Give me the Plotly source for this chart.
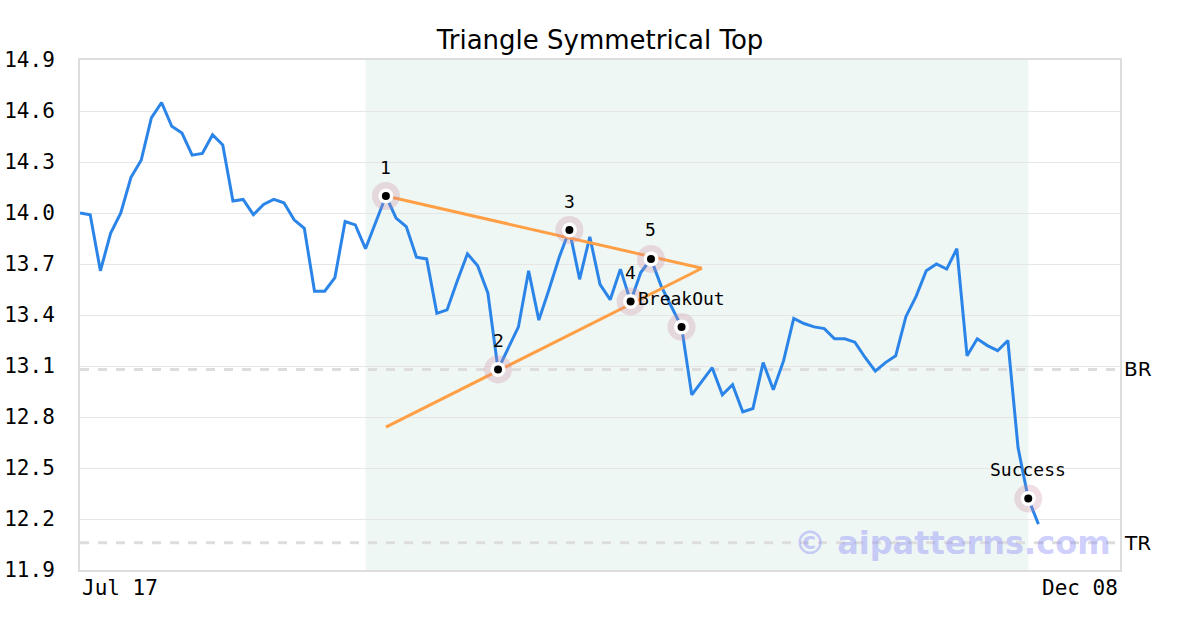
import plotly.graph_objects as go

title = "Triangle Symmetrical Top"
prices = [14.00, 13.99, 13.66, 13.88, 14.00, 14.21, 14.31, 14.56, 14.65, 14.51,
          14.47, 14.34, 14.35, 14.46, 14.40, 14.07, 14.08, 13.99, 14.05, 14.08,
          14.06, 13.96, 13.91, 13.54, 13.54, 13.62, 13.95, 13.93, 13.79, 13.95,
          14.10, 13.97, 13.92, 13.74, 13.73, 13.41, 13.43, 13.60, 13.76, 13.69,
          13.53, 13.08, 13.21, 13.33, 13.66, 13.37, 13.55, 13.74, 13.90, 13.61,
          13.86, 13.58, 13.49, 13.67, 13.48, 13.65, 13.73, 13.57, 13.45, 13.33,
          12.93, 13.01, 13.09, 12.93, 12.99, 12.83, 12.85, 13.12, 12.96, 13.13,
          13.38, 13.35, 13.33, 13.32, 13.26, 13.26, 13.24, 13.15, 13.07, 13.12,
          13.16, 13.39, 13.51, 13.66, 13.70, 13.67, 13.79, 13.16, 13.26, 13.22,
          13.19, 13.25, 12.62, 12.32, 12.17]
days = list(range(len(prices)))

x_tick_vals = [0, 102]
x_tick_text = ["Jul 17", "Dec 08"]
y_tick_vals = [11.9, 12.2, 12.5, 12.8, 13.1, 13.4, 13.7, 14.0, 14.3, 14.6, 14.9]

pattern_idx = [30, 41, 48, 54, 56, 59, 93]
pattern_labels = ["1", "2", "3", "4", "5", "", "Success"]
breakout_idx = 54
breakout_label = "BreakOut"

upper_x = [30, 61]
upper_y = [14.10, 13.675]
lower_x = [30, 61]
lower_y = [12.74, 13.675]

shade_range = [28, 93]
br_level = 13.08
tr_level = 12.06
watermark = "© aipatterns.com"
watermark_x = 85.6

mono = "DejaVu Sans Mono"
fig = go.Figure()

fig.add_trace(go.Scatter(x=days, y=prices, mode="lines",
                         line=dict(color="#2b85e9", width=3), hoverinfo="skip"))
fig.add_trace(go.Scatter(x=upper_x, y=upper_y, mode="lines",
                         line=dict(color="#ff9f45", width=3), hoverinfo="skip"))
fig.add_trace(go.Scatter(x=lower_x, y=lower_y, mode="lines",
                         line=dict(color="#ff9f45", width=3), hoverinfo="skip"))

px_ = [days[i] for i in pattern_idx]
py_ = [prices[i] for i in pattern_idx]
fig.add_trace(go.Scatter(x=px_, y=py_, mode="markers",
                         marker=dict(size=28, color="rgba(205,135,160,0.28)", line=dict(width=0)),
                         hoverinfo="skip"))
fig.add_trace(go.Scatter(x=px_, y=py_, mode="markers",
                         marker=dict(size=15, color="white", line=dict(width=0)),
                         hoverinfo="skip"))
fig.add_trace(go.Scatter(x=px_, y=py_, mode="markers",
                         marker=dict(size=8, color="black", line=dict(width=0)),
                         hoverinfo="skip"))

annotations = []
for i, lab in zip(pattern_idx, pattern_labels):
    if lab:
        annotations.append(dict(x=days[i], y=prices[i], xref="x", yref="y", text=lab,
                                showarrow=False, yshift=29,
                                font=dict(family=mono, size=18, color="black")))
annotations.append(dict(x=days[breakout_idx], y=prices[breakout_idx], xref="x", yref="y",
                        text=breakout_label, showarrow=False, xanchor="left", xshift=5, yshift=3,
                        font=dict(family=mono, size=18, color="black")))
for v, t, anc in zip(x_tick_vals, x_tick_text, ["left", "right"]):
    annotations.append(dict(x=v, y=0, xref="x", yref="paper", text=t, showarrow=False,
                            xanchor=anc, yanchor="top", yshift=-4, xshift=0,
                            font=dict(family=mono, size=21, color="black")))
for lvl, t in [(br_level, "BR"), (tr_level, "TR")]:
    annotations.append(dict(x=1, y=lvl, xref="paper", yref="y", text=t, showarrow=False,
                            xanchor="left", xshift=2,
                            font=dict(family="DejaVu Sans", size=20, color="black")))
annotations.append(dict(x=watermark_x, y=tr_level, xref="x", yref="y", text="<b>" + watermark + "</b>",
                        showarrow=False, xanchor="center",
                        font=dict(family="DejaVu Sans", size=32, color="rgba(130,130,250,0.4)")))

shapes = [
    dict(type="rect", xref="x", yref="paper", x0=shade_range[0], x1=shade_range[1], y0=0, y1=1,
         fillcolor="#eff7f4", line=dict(width=0), layer="below"),
]
for lvl in [br_level, tr_level]:
    shapes.append(dict(type="line", xref="paper", yref="y", x0=0, x1=1, y0=lvl, y1=lvl,
                       line=dict(color="#dddddd", width=3, dash="dash"), layer="between"))

fig.update_layout(
    width=1200, height=630,
    margin=dict(l=80, r=80, t=60, b=60),
    paper_bgcolor="white", plot_bgcolor="white",
    showlegend=False,
    title=dict(text=title, x=0.5, xanchor="center", y=1 - 40 / 630, yanchor="middle",
               font=dict(family="DejaVu Sans", size=26, color="black")),
    xaxis=dict(range=[0, 102], showgrid=False, zeroline=False, showticklabels=False,
               showline=True, mirror=True, linecolor="#dddddd", linewidth=2, automargin=False),
    yaxis=dict(range=[11.9, 14.9], tickvals=y_tick_vals, tickformat=".1f",
               showgrid=True, gridcolor="#e6e6e6", gridwidth=1, zeroline=False,
               showline=True, mirror=True, linecolor="#dddddd", linewidth=2,
               ticks="", ticklabelstandoff=19, automargin=False,
               tickfont=dict(family=mono, size=21, color="black")),
    shapes=shapes,
    annotations=annotations,
)

fig.write_html("out.html", config={"displayModeBar": False},
               post_script="document.body.style.margin='0';document.body.style.padding='0';")
